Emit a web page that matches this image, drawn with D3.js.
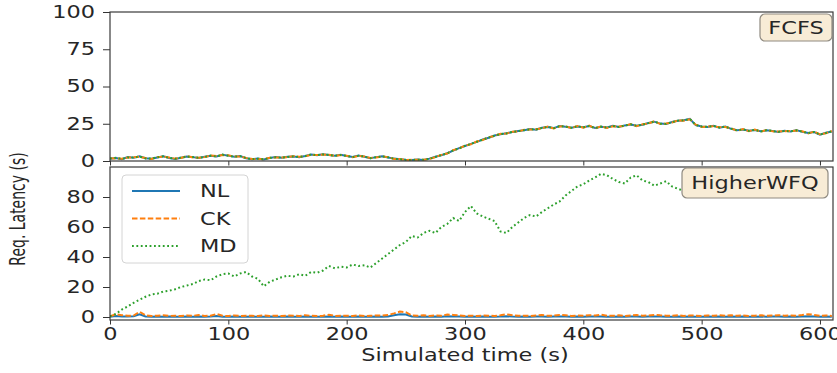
<!DOCTYPE html>
<html>
<head>
<meta charset="utf-8">
<script src="https://cdn.jsdelivr.net/npm/d3@7"></script>
<style>
  body { margin: 0; background: #fff; }
  text { font-family: "DejaVu Sans", sans-serif; fill: #262626; }
</style>
</head>
<body>
<div id="grafico"></div>
<script>

// sampling grid (s), one point every 5 s
const tempos = d3.range(0, 615, 5)

// FCFS panel
const fcfsNL = [
  1.5, 2.0, 1.2, 2.6, 2.2, 3.1, 1.8, 1.5, 2.4, 3.2,
  2.0, 1.4, 2.2, 3.0, 2.6, 2.0, 2.8, 3.5, 3.1, 4.2,
  3.6, 2.8, 3.3, 1.9, 1.2, 1.6, 1.0, 2.0, 2.6, 2.2,
  2.8, 3.0, 2.6, 3.4, 4.3, 3.8, 4.5, 4.0, 3.6, 4.2,
  3.4, 2.7, 3.6, 2.9, 1.8, 2.6, 3.2, 2.4, 1.6, 1.1,
  0.8, 0.6, 1.0, 0.7, 1.6, 2.8, 3.9, 5.2, 7.0, 8.6,
  10.1, 11.5, 12.8, 14.4, 15.6, 17.1, 18.0, 18.6, 19.4, 20.1,
  20.6, 21.4, 21.0, 22.3, 22.8, 22.1, 23.5, 23.0, 22.4, 23.2,
  22.7, 23.4, 22.2, 23.0, 22.5, 23.6, 22.8, 23.9, 24.5, 23.7,
  24.3, 25.5, 26.4, 25.1, 24.8, 26.2, 27.0, 27.4, 28.3, 24.1,
  23.2, 22.8, 23.6, 22.4, 23.1, 21.6, 20.6, 21.2, 20.3, 20.8,
  19.9, 20.6, 20.2, 19.5, 20.3, 19.8, 20.7, 19.6, 18.8, 19.4,
  17.6, 18.9, 19.8
]
const fcfsCK = [
  1.8, 1.7, 1.5, 2.3, 2.5, 2.8, 2.0, 1.3, 2.6, 3.0,
  2.3, 1.6, 2.0, 3.3, 2.4, 2.2, 2.6, 3.7, 3.3, 4.0,
  3.8, 3.0, 3.1, 2.1, 1.4, 1.4, 1.2, 2.2, 2.4, 2.4,
  2.6, 3.2, 2.8, 3.2, 4.1, 4.0, 4.3, 4.2, 3.4, 4.0,
  3.6, 2.5, 3.4, 3.1, 2.0, 2.4, 3.0, 2.6, 1.4, 1.3,
  0.6, 0.8, 0.8, 0.9, 1.4, 2.6, 4.1, 5.0, 7.3, 8.4,
  10.4, 11.2, 13.1, 14.1, 15.9, 16.8, 18.3, 18.4, 19.7, 19.8,
  20.9, 21.1, 21.3, 22.0, 23.1, 21.8, 23.2, 23.3, 22.1, 23.5,
  22.4, 23.7, 21.9, 23.3, 22.2, 23.3, 23.1, 23.6, 24.8, 23.4,
  24.6, 25.2, 26.7, 24.8, 25.1, 25.9, 27.3, 27.1, 28.0, 24.4,
  22.9, 23.1, 23.3, 22.7, 22.8, 21.9, 20.3, 21.5, 20.0, 21.1,
  19.6, 20.9, 19.9, 19.8, 20.0, 20.1, 20.4, 19.9, 18.5, 19.7,
  17.9, 18.6, 20.1
]
const fcfsMD = [
  1.6, 2.2, 1.4, 2.4, 2.3, 3.0, 1.7, 1.6, 2.5, 3.1,
  2.1, 1.5, 2.3, 2.9, 2.7, 2.1, 2.7, 3.6, 3.0, 4.3,
  3.5, 2.9, 3.2, 2.0, 1.3, 1.5, 1.1, 2.1, 2.5, 2.3,
  2.7, 3.1, 2.7, 3.3, 4.4, 3.9, 4.4, 4.1, 3.5, 4.1,
  3.5, 2.6, 3.5, 3.0, 1.9, 2.5, 3.1, 2.5, 1.5, 1.2,
  0.7, 0.7, 0.9, 0.8, 1.5, 2.7, 4.0, 5.1, 7.1, 8.5,
  10.2, 11.4, 12.9, 14.3, 15.7, 17.0, 18.1, 18.5, 19.5, 20.0,
  20.7, 21.3, 21.1, 22.2, 22.9, 22.0, 23.4, 23.1, 22.3, 23.3,
  22.6, 23.5, 22.1, 23.1, 22.4, 23.5, 22.9, 23.8, 24.6, 23.6,
  24.4, 25.4, 26.5, 25.0, 24.9, 26.1, 27.1, 27.3, 28.2, 24.2,
  23.1, 22.9, 23.5, 22.5, 23.0, 21.7, 20.5, 21.3, 20.2, 20.9,
  19.8, 20.7, 20.1, 19.6, 20.2, 19.9, 20.6, 19.7, 18.7, 19.5,
  17.7, 18.8, 19.9
]

// HigherWFQ panel
const wfqNL = [
  0.2, 0.6, 0.4, 0.3, 0.5, 1.8, 0.4, 0.2, 0.3, 0.2,
  0.3, 0.2, 0.1, 0.3, 0.2, 0.4, 0.2, 0.3, 0.6, 0.2,
  0.1, 0.3, 0.2, 0.2, 0.3, 0.1, 0.2, 0.3, 0.2, 0.1,
  0.3, 0.2, 0.2, 0.4, 0.2, 0.1, 0.2, 0.4, 0.2, 0.3,
  0.2, 0.1, 0.3, 0.2, 0.2, 0.3, 0.2, 0.4, 1.2, 1.9,
  1.6, 0.3, 0.2, 0.3, 0.2, 0.3, 0.2, 0.5, 0.4, 0.3,
  0.2, 0.3, 0.1, 0.3, 0.2, 0.2, 0.3, 0.5, 0.3, 0.2,
  0.3, 0.2, 0.3, 0.4, 0.2, 0.3, 0.4, 0.3, 0.2, 0.3,
  0.2, 0.3, 0.3, 0.4, 0.2, 0.2, 0.3, 0.2, 0.3, 0.4,
  0.2, 0.3, 0.4, 0.3, 0.2, 0.2, 0.3, 0.2, 0.3, 0.2,
  0.2, 0.3, 0.2, 0.3, 0.2, 0.3, 0.2, 0.3, 0.2, 0.2,
  0.3, 0.2, 0.3, 0.3, 0.2, 0.3, 0.2, 0.4, 0.5, 0.3,
  0.2, 0.3, 0.2
]
const wfqCK = [
  0.5, 1.8, 1.2, 0.8, 1.0, 3.5, 1.2, 0.6, 0.9, 1.1,
  0.7, 0.9, 0.6, 1.0, 0.8, 1.3, 0.7, 0.9, 2.0, 0.8,
  0.6, 1.0, 0.7, 0.9, 0.8, 0.6, 1.1, 0.7, 0.9, 0.6,
  1.0, 0.8, 0.7, 1.2, 0.8, 0.6, 0.9, 1.5, 0.7, 0.8,
  0.9, 0.7, 1.1, 0.6, 0.8, 1.0, 0.9, 1.3, 2.4, 3.6,
  3.2, 1.0, 0.8, 1.2, 0.7, 1.0, 0.8, 1.6, 1.4, 1.1,
  0.7, 0.9, 0.6, 1.0, 0.8, 0.7, 1.1, 1.8, 1.2, 0.8,
  0.9, 0.7, 1.0, 1.3, 0.8, 0.9, 1.4, 1.1, 0.7, 1.0,
  0.8, 1.2, 1.0, 1.5, 0.9, 0.8, 1.1, 0.7, 1.0, 1.3,
  0.8, 1.0, 1.4, 1.1, 0.9, 0.8, 1.2, 0.7, 1.0, 0.9,
  0.7, 1.0, 0.8, 1.1, 0.9, 1.2, 0.8, 1.0, 0.7, 0.9,
  1.1, 0.8, 1.0, 1.2, 0.9, 1.0, 0.8, 1.3, 1.9, 1.4,
  0.8, 1.0, 0.7
]
// MD stops near 485 s
const wfqMD = [
  0.5, 2, 5, 7, 9.5, 11.5, 13.5, 15, 15.5, 17,
  17.5, 18.5, 20, 21, 22, 24, 25, 24.5, 27, 28.5,
  29, 27, 29, 30, 27, 25.5, 20.5, 23.5, 25, 26.5,
  27.5, 27, 28.5, 27.5, 30, 29.5, 31, 34, 32.5, 33.5,
  33, 35, 34, 34.5, 33, 36, 39, 42, 45, 48,
  50, 54, 53, 56, 57.5, 56, 60, 62, 66, 64,
  70, 74, 69, 67, 65.5, 64, 57, 56, 60, 63,
  66, 68, 67, 70, 72.5, 75, 77, 81, 84, 87,
  88.5, 91, 93, 95.5, 94.5, 92, 90, 89, 93, 94.5,
  91, 90, 87.5, 89, 90.5, 87, 85.5, 84
]

const series = ['NL', 'CK', 'MD']
const cores = { NL: '#1f77b4', CK: '#ff7f0e', MD: '#2ca02c' }
const tracos = { NL: null, CK: '5.5,2.4', MD: '1.8,2.6' }

const ticksTopo = [0, 25, 50, 75, 100]
const ticksBaixo = [0, 20, 40, 60, 80]
const ticksX = [0, 100, 200, 300, 400, 500, 600]

// the picture is stretched horizontally
const sx = 1.32

let svg = d3.select('#grafico').append('svg')
  .attr('width', 837)
  .attr('height', 373)

let x = d3.scaleLinear().domain([0, 611]).range([110, 833])

let paineis = [
  { nome: 'FCFS', y: d3.scaleLinear().domain([0, 100]).range([161, 12]), ticks: ticksTopo,
    dados: { NL: fcfsNL, CK: fcfsCK, MD: fcfsMD }, caixa: [760, 14, 72, 27] },
  { nome: 'HigherWFQ', y: d3.scaleLinear().domain([-2, 100]).range([320, 167]), ticks: ticksBaixo,
    dados: { NL: wfqNL, CK: wfqCK, MD: wfqMD }, caixa: [682, 168, 146, 30] }
]

function texto(g, px, py, str, size, anchor) {
  return g.append('text')
    .attr('transform', `translate(${px},${py}) scale(${sx},1)`)
    .attr('text-anchor', anchor)
    .style('font-size', size + 'px')
    .text(str)
}

paineis.forEach((p, i) => {
  let [y0, y1] = p.y.range()
  let g = svg.append('g')

  g.append('clipPath').attr('id', 'clip' + i)
    .append('rect').attr('x', 110).attr('y', y1).attr('width', 723).attr('height', y0 - y1)

  // lines
  series.forEach(s => {
    let vals = p.dados[s]
    let line = d3.line()
      .x((d, j) => x(tempos[j]))
      .y(d => p.y(d))
    g.append('path')
      .datum(vals)
      .attr('clip-path', `url(#clip${i})`)
      .attr('d', line)
      .attr('fill', 'none')
      .attr('stroke', cores[s])
      .attr('stroke-width', 2)
      .attr('stroke-dasharray', tracos[s])
  })

  // y axis
  let ay = g.append('g')
    .attr('transform', 'translate(110,0)')
    .call(d3.axisLeft(p.y).tickValues(p.ticks).tickSize(7).tickSizeOuter(0))
  ay.select('.domain').remove()
  ay.selectAll('line').attr('stroke', '#333')
  ay.selectAll('text')
    .attr('x', -15 / sx)
    .attr('transform', `scale(${sx},1)`)
    .style('font-size', '17px')
    .style('font-family', '"DejaVu Sans", sans-serif')
    .attr('fill', '#262626')

  // x axis
  let ax = g.append('g')
    .attr('transform', `translate(0,${y0})`)
    .call(d3.axisBottom(x).tickValues(ticksX).tickSize(4.5).tickSizeOuter(0)
      .tickFormat(i == 0 ? '' : d3.format('d')))
  ax.select('.domain').remove()
  ax.selectAll('line').attr('stroke', '#333')
  ax.selectAll('text')
    .attr('y', 8)
    .attr('transform', `scale(${sx},1)`)
    .style('font-size', '17px')
    .style('font-family', '"DejaVu Sans", sans-serif')
    .attr('fill', '#262626')

  // frame
  g.append('rect')
    .attr('x', 110).attr('y', y1)
    .attr('width', 723).attr('height', y0 - y1)
    .attr('fill', 'none')
    .attr('stroke', '#3a3a3a')
    .attr('stroke-width', 1.2)

  // panel label
  let [bx, by, bw, bh] = p.caixa
  g.append('rect')
    .attr('x', bx).attr('y', by).attr('width', bw).attr('height', bh)
    .attr('rx', 5)
    .attr('fill', '#f8ecd6')
    .attr('stroke', '#8f8a80')
    .attr('stroke-width', 1.2)
  texto(g, bx + bw / 2, by + bh / 2 + 6, p.nome, 17, 'middle')
})

// legend
let leg = svg.append('g')
leg.append('rect')
  .attr('x', 122).attr('y', 175).attr('width', 126).attr('height', 88)
  .attr('rx', 4)
  .attr('fill', '#fff').attr('fill-opacity', 0.8)
  .attr('stroke', '#d4d4d4')
series.forEach((s, j) => {
  let ly = 191 + j * 27.5
  leg.append('line')
    .attr('x1', 132).attr('x2', 180).attr('y1', ly).attr('y2', ly)
    .attr('stroke', cores[s])
    .attr('stroke-width', 2)
    .attr('stroke-dasharray', tracos[s])
  texto(leg, 200, ly + 6, s, 17, 'start')
})

// axis titles
texto(svg, 465, 361, 'Simulated time (s)', 17, 'middle')
svg.append('text')
  .attr('transform', `translate(25,209) scale(1.5,1) rotate(-90)`)
  .attr('text-anchor', 'middle')
  .style('font-size', '14px')
  .text('Req. Latency (s)')

</script>
</body>
</html>
